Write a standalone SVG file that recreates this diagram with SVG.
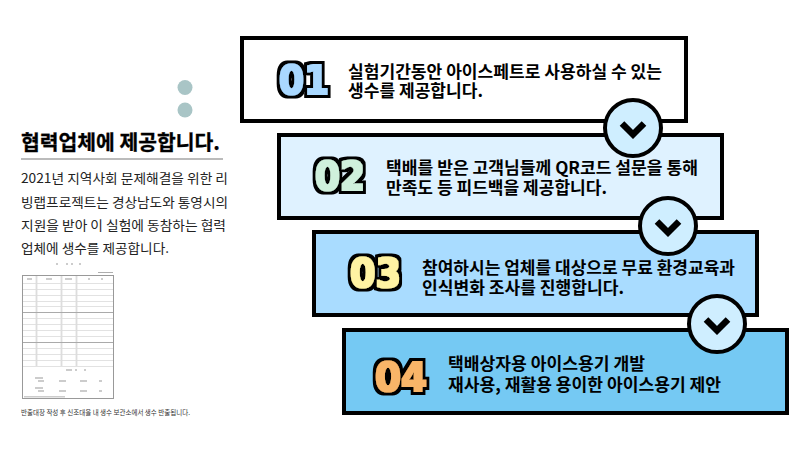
<svg xmlns="http://www.w3.org/2000/svg" width="800" height="450" viewBox="0 0 800 450">
<defs>
<filter id="fat" x="-25%" y="-25%" width="150%" height="150%">
<feMorphology in="SourceGraphic" operator="dilate" radius="1.200 .6" result="core"/>
<feMorphology in="core" operator="dilate" radius="2.600" result="wide"/>
<feFlood flood-color="#000" result="ink"/>
<feComposite in="ink" in2="wide" operator="in" result="edge"/>
<feGaussianBlur in="edge" stdDeviation=".4" result="soft"/>
<feMerge><feMergeNode in="soft"/><feMergeNode in="core"/></feMerge>
</filter>
</defs>
<style>
text{font-family:"Noto Sans CJK KR","Noto Sans",sans-serif}
.b{stroke:#000;stroke-width:4}
.t{font-size:16.500px;font-weight:700}
.n{font-family:"DejaVu Sans",sans-serif;font-weight:700;font-size:39px;filter:url(#fat)}
.p{font-size:13px;fill:#222}
.c{fill:#cfeeff;stroke:#000;stroke-width:4}
.v{fill:none;stroke:#000;stroke-width:6.500}
.f{stroke:#e2e2e2;stroke-width:1;fill:none}
.g{stroke:#aaa;stroke-width:1.200;fill:none}
.w{stroke:#ddd;stroke-width:1.800;fill:none}
.d{fill:#ccc}
</style>
<rect width="800" height="450" fill="#fff"/>
<g id="side">
<circle cx="185" cy="87.500" r="7.500" fill="#a9c5c6"/>
<circle cx="185" cy="110" r="7.500" fill="#a9c5c6"/>
<text x="21" y="150" font-size="20.500" font-weight="700" stroke="#000" stroke-width=".3" textLength="199" lengthAdjust="spacingAndGlyphs">협력업체에 제공합니다.</text>
<rect x="21" y="158" width="202" height="2" fill="#bbb"/>
<text class="p" x="21" y="183" textLength="207" lengthAdjust="spacingAndGlyphs">2021년 지역사회 문제해결을 위한 리</text>
<text class="p" x="21" y="207" textLength="207" lengthAdjust="spacingAndGlyphs">빙랩프로젝트는 경상남도와 통영시의</text>
<text class="p" x="21" y="230" textLength="205" lengthAdjust="spacingAndGlyphs">지원을 받아 이 실험에 동참하는 협력</text>
<text class="p" x="21" y="253" textLength="148" lengthAdjust="spacingAndGlyphs">업체에 생수를 제공합니다.</text>
</g>
<g id="form">
<path class="f" d="M23 283.500H113M23 289.500H113M23 295.500H113M23 301.500H113M23 306.500H113M23 318.500H113M23 324.500H113M23 330.500H113M23 336.500H113M23 348.500H113M23 354.500H113M23 360.500H113M23 366.500H113"/>
<path class="w" d="M36.500 276V366M61.500 276V366M76.500 276V366"/>
<path class="g" d="M23 312.500H113M23 342.500H113"/>
<rect x="22.500" y="275.500" width="91" height="123" fill="none" stroke="#999" stroke-width="1"/>
<path d="M98 272.500H113" stroke="#999" stroke-width=".8"/>
<g class="d">
<rect x="56" y="263" width="2" height="2"/><rect x="66" y="263" width="2" height="2"/><rect x="71" y="263" width="2" height="2"/><rect x="79" y="263" width="2" height="2"/>
<rect x="27" y="278" width="5" height="2"/><rect x="46" y="278" width="6" height="2"/><rect x="65" y="278" width="7" height="2"/><rect x="88" y="278" width="2" height="2"/><rect x="101" y="278" width="2" height="2"/>
<rect x="66" y="369" width="6" height="2"/><rect x="75" y="369" width="2" height="2"/><rect x="84" y="369" width="2" height="2"/>
<rect x="35" y="377" width="8" height="2"/><rect x="38" y="380" width="6" height="2"/><rect x="59" y="380" width="7" height="2"/><rect x="80" y="380" width="7" height="2"/><rect x="99" y="380" width="3" height="2"/>
<rect x="35" y="387" width="8" height="2"/><rect x="38" y="390" width="6" height="2"/><rect x="59" y="390" width="7" height="2"/><rect x="80" y="390" width="7" height="2"/><rect x="99" y="390" width="3" height="2"/>
<rect x="24" y="396" width="41" height="1.500"/>
</g>
<text x="21" y="415" font-size="7" fill="#333" textLength="169" lengthAdjust="spacingAndGlyphs">반출대장 작성 후 신조대을 내 생수 보관소에서 생수 반출됩니다.</text>
</g>
<g id="step1">
<rect class="b" x="242" y="38" width="444" height="83" fill="#fff"/>
<text class="n" x="279" y="93.500" fill="#a9d8ff" textLength="50" lengthAdjust="spacingAndGlyphs">01</text>
<text class="t" x="348" y="78" textLength="314" lengthAdjust="spacingAndGlyphs">실험기간동안 아이스페트로 사용하실 수 있는</text>
<text class="t" x="348" y="97" textLength="135" lengthAdjust="spacingAndGlyphs">생수를 제공합니다.</text>
</g>
<g id="step2">
<rect class="b" x="279" y="135" width="443" height="83" fill="#dff2ff"/>
<text class="n" x="315" y="189.500" fill="#cff0dc" textLength="50" lengthAdjust="spacingAndGlyphs">02</text>
<text class="t" x="386" y="174" textLength="312" lengthAdjust="spacingAndGlyphs">택배를 받은 고객님들께 QR코드 설문을 통해</text>
<text class="t" x="386" y="194" textLength="221" lengthAdjust="spacingAndGlyphs">만족도 등 피드백을 제공합니다.</text>
</g>
<g id="step3">
<rect class="b" x="314" y="232" width="443" height="83" fill="#a9dcff"/>
<text class="n" x="350" y="287" fill="#fff3a3" textLength="51" lengthAdjust="spacingAndGlyphs">03</text>
<text class="t" x="422" y="274" textLength="313" lengthAdjust="spacingAndGlyphs">참여하시는 업체를 대상으로 무료 환경교육과</text>
<text class="t" x="422" y="294" textLength="202" lengthAdjust="spacingAndGlyphs">인식변화 조사를 진행합니다.</text>
</g>
<g id="step4">
<rect class="b" x="344" y="330" width="443" height="83" fill="#75c9f3"/>
<text class="n" x="375" y="390.500" fill="#f9b568" textLength="52" lengthAdjust="spacingAndGlyphs">04</text>
<text class="t" x="448" y="370" textLength="197" lengthAdjust="spacingAndGlyphs">택배상자용 아이스용기 개발</text>
<text class="t" x="448" y="391" textLength="273" lengthAdjust="spacingAndGlyphs">재사용, 재활용 용이한 아이스용기 제안</text>
</g>
<g id="connectors">
<circle class="c" cx="633" cy="128" r="28"/><path class="v" d="M622 123.500L633 134.500L644 123.500"/>
<circle class="c" cx="668" cy="226" r="28"/><path class="v" d="M657 221.500L668 232.500L679 221.500"/>
<circle class="c" cx="717" cy="324" r="28"/><path class="v" d="M706 319.500L717 330.500L728 319.500"/>
</g>
</svg>
